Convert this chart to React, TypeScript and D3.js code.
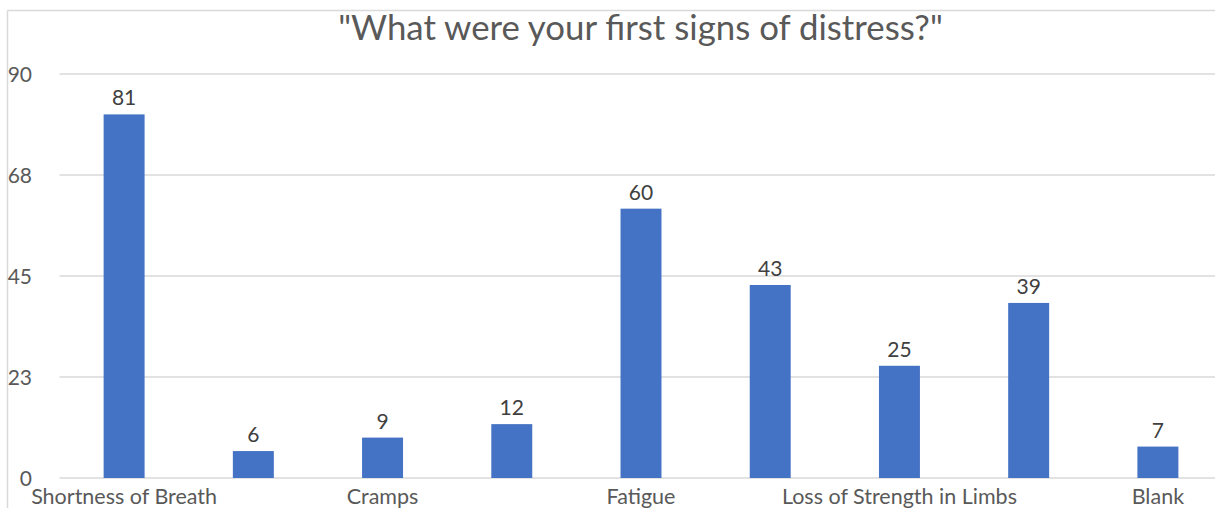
import React from "react";
import * as d3 from "d3";

const categories = ["Shortness of Breath", "", "Cramps", "", "Fatigue", "", "Loss of Strength in Limbs", "", "Blank"];
const values = [81, 6, 9, 12, 60, 43, 25, 39, 7];
const yTicks = [0, 22.5, 45, 67.5, 90];
const title = '"What were your first signs of distress?"';

export default function App() {
  const W = 1215, H = 508;
  const plotLeft = 59.5, plotRight = 1222.5;
  const y0 = 478, y1 = 74;
  const x = d3.scaleBand<number>().domain(values.map((_, i) => i)).range([plotLeft, plotRight]).paddingInner(0.683).paddingOuter(0.683 / 2);
  const y = d3.scaleLinear().domain([0, 90]).range([y0, y1]);
  const font = "Lato, 'Open Sans', sans-serif";
  const grey = "#595959";
  return (
    <svg width={W} height={H} style={{ position: "absolute", left: 0, top: 0, background: "#fff" }} fontFamily={font}>
      <rect x={0} y={0} width={W} height={H} fill="#fff" />
      <line x1={7.5} y1={10.5} x2={W} y2={10.5} stroke="#d9d9d9" strokeWidth={1.5} />
      <line x1={7.5} y1={10.5} x2={7.5} y2={H} stroke="#d9d9d9" strokeWidth={1.5} />
      <text x={640.5} y={40} textAnchor="middle" fontSize={34.8} fill={grey}>{title}</text>
      {yTicks.map((t) => (
        <g key={t}>
          <line x1={plotLeft} x2={plotRight} y1={y(t)} y2={y(t)} stroke="#d9d9d9" strokeWidth={1.5} />
          <text x={32} y={y(t) + 7.5} textAnchor="end" fontSize={21} fill={grey}>{Math.round(t)}</text>
        </g>
      ))}
      {values.map((v, i) => (
        <g key={i}>
          <rect x={x(i)} y={y(v)} width={x.bandwidth()} height={y0 - y(v)} fill="#4472c4" />
          <text x={(x(i) as number) + x.bandwidth() / 2} y={y(v) - 9} textAnchor="middle" fontSize={21} fill="#404040">{v}</text>
          {categories[i] && (
            <text x={(x(i) as number) + x.bandwidth() / 2} y={503.5} textAnchor="middle" fontSize={21.5} fill={grey}>{categories[i]}</text>
          )}
        </g>
      ))}
    </svg>
  );
}
